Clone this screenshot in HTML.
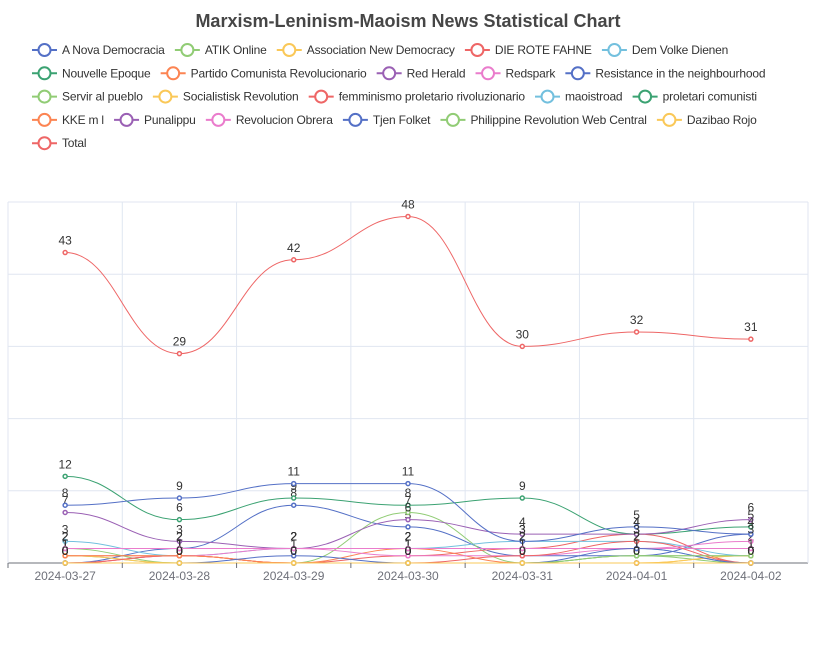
<!DOCTYPE html>
<html><head><meta charset="utf-8"><style>
body{margin:0;background:#fff;font-family:"Liberation Sans",sans-serif}
svg text{font-family:"Liberation Sans",sans-serif}
</style></head><body>
<svg id="chart" width="824" height="648" xmlns="http://www.w3.org/2000/svg">
<text x="408" y="27" text-anchor="middle" font-size="18" font-weight="bold" fill="#464646">Marxism-Leninism-Maoism News Statistical Chart</text>
<g id="grid"></g><g id="legend"></g><g id="series"></g><g id="xaxis"></g>
</svg>
<script>
const categories=["2024-03-27","2024-03-28","2024-03-29","2024-03-30","2024-03-31","2024-04-01","2024-04-02"];
const seriesNames=["A Nova Democracia","ATIK Online","Association New Democracy","DIE ROTE FAHNE","Dem Volke Dienen","Nouvelle Epoque","Partido Comunista Revolucionario","Red Herald","Redspark","Resistance in the neighbourhood","Servir al pueblo","Socialistisk Revolution","femminismo proletario rivoluzionario","maoistroad","proletari comunisti","KKE m l","Punalippu","Revolucion Obrera","Tjen Folket","Philippine Revolution Web Central","Dazibao Rojo","Total"];
const s0=[0,2,8,5,1,1,4];
const s1=[1,0,0,7,0,1,1];
const s2=[0,0,0,0,0,0,1];
const s3=[1,1,0,1,2,4,0];
const s4=[3,1,2,2,3,3,1];
const s5=[12,6,9,8,9,4,5];
const s6=[0,1,0,2,0,0,0];
const s7=[7,3,2,6,4,4,6];
const s8=[0,1,2,1,1,2,2];
const s9=[8,9,11,11,3,5,4];
const s10=[2,0,0,0,0,1,0];
const s11=[1,0,0,0,0,0,1];
const s12=[0,1,0,0,1,3,0];
const s13=[2,2,2,2,2,2,0];
const s14=[0,0,0,0,0,0,0];
const s15=[1,1,0,0,0,0,0];
const s16=[0,0,0,0,0,0,0];
const s17=[2,2,2,2,2,2,3];
const s18=[0,0,1,0,0,2,0];
const s19=[0,0,0,0,0,1,1];
const s20=[0,0,0,0,0,0,0];
const total=[43,29,42,48,30,32,31];
const allValues=[s0,s1,s2,s3,s4,s5,s6,s7,s8,s9,s10,s11,s12,s13,s14,s15,s16,s17,s18,s19,s20,total];
const palette=["#5470c6","#91cc75","#fac858","#ee6666","#73c0de","#3ba272","#fc8452","#9a60b4","#ea7ccc"];
const yTicks=[0,10,20,30,40,50];
const NS="http://www.w3.org/2000/svg";
const L=8,R=808,T=202,B=563,yMax=50;
const step=(R-L)/categories.length;
const xS=i=>L+step*(i+0.5);
const yS=v=>B-(v/yMax)*(B-T);
function mk(tag,attrs,parent){const e=document.createElementNS(NS,tag);for(const k in attrs)e.setAttribute(k,attrs[k]);parent.appendChild(e);return e;}
const grid=document.getElementById('grid');
yTicks.forEach(t=>{const l=mk('line',{x1:L,x2:R,y1:yS(t),y2:yS(t),stroke:t===0?'#6e7079':'#e0e6f1'},grid);

});
for(let i=0;i<=categories.length;i++){const l=mk('line',{x1:L+step*i,x2:L+step*i,y1:T,y2:B,stroke:'#e0e6f1'},grid);

}
const xa=document.getElementById('xaxis');
categories.forEach((c,i)=>{const tk=mk('line',{x1:L+step*i,x2:L+step*i,y1:B,y2:B+5,stroke:'#6e7079'},xa);


const t=mk('text',{x:xS(i),y:B+17,'text-anchor':'middle','font-size':12,fill:'#6e7079'},xa);t.textContent=c;

});
// legend (flow layout)
const lg=document.getElementById('legend');
let lx=32,ly=50;
seriesNames.forEach((name,k)=>{const col=palette[k%9];
const g=mk('g',{},lg);


const t=mk('text',{x:0,y:0,'font-size':12,fill:'#333'},g);t.textContent=name;
const w=t.getComputedTextLength()*0.97;
t.setAttribute('textLength',w);
let itemW=30+w;
if(lx+itemW>795){lx=32;ly+=23.3;}
t.setAttribute('x',lx+30);t.setAttribute('y',ly+4);
const ln=mk('line',{x1:lx,x2:lx+25,y1:ly,y2:ly,stroke:col,'stroke-width':2},g);
const c=mk('circle',{cx:lx+12.5,cy:ly,r:6,fill:'#fff',stroke:col,'stroke-width':2},g);
lx+=itemW+10;});
// series
const sg=document.getElementById('series');
allValues.forEach((vals,si)=>{const col=palette[si%9];
let d=`M${xS(0)},${yS(vals[0])}`;
for(let i=1;i<vals.length;i++){const x0=xS(i-1),x1=xS(i),dx=(x1-x0)*0.45;
d+=` C${x0+dx},${yS(vals[i-1])} ${x1-dx},${yS(vals[i])} ${x1},${yS(vals[i])}`;}
const p=mk('path',{d:d,fill:'none',stroke:col,'stroke-width':1},sg);


vals.forEach((v,i)=>{const c=mk('circle',{cx:xS(i),cy:yS(v),r:2,fill:'#fff',stroke:col,'stroke-width':1.5},sg);


const t=mk('text',{x:xS(i),y:yS(v)-8,'text-anchor':'middle','font-size':12,fill:'#333'},sg);t.textContent=v;

});});
</script>
</body></html>
